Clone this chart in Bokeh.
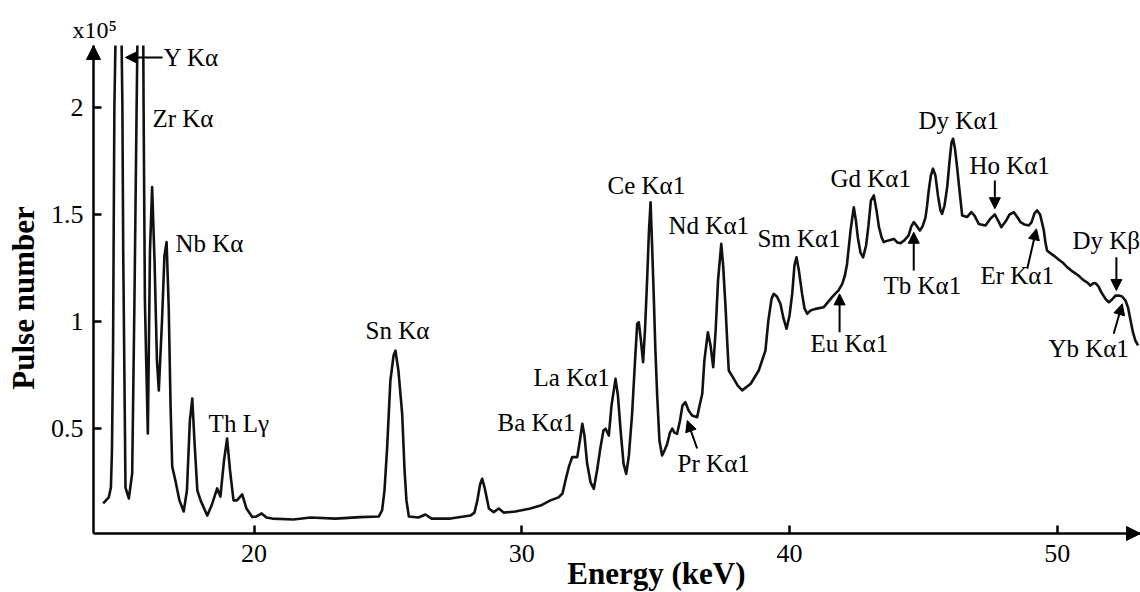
from bokeh.plotting import figure
from bokeh.models import Range1d, FixedTicker, NumeralTickFormatter, Label, Arrow, NormalHead
from bokeh.embed import file_html
from bokeh.resources import INLINE

# ---------------- data ----------------
energy_kev = [
    14.36, 14.57, 14.65, 14.69, 14.73, 14.78, 14.82, 15.05, 15.08, 15.11, 15.195,
    15.32, 15.445, 15.53, 15.61, 15.64, 15.86, 15.87, 15.92, 15.96, 16.03, 16.11,
    16.19, 16.28, 16.37, 16.44, 16.56, 16.65, 16.73, 16.81, 16.88, 16.94,
    17.06, 17.21, 17.37, 17.49, 17.60, 17.69, 17.77, 17.88, 18.00, 18.25,
    18.41, 18.62, 18.74, 18.875, 18.99, 19.10, 19.23, 19.36, 19.555, 19.715,
    19.93, 20.09, 20.28, 20.46, 20.675, 21.47, 22.11, 23.04, 23.97, 24.66,
    24.78, 24.87, 24.97, 25.09, 25.21, 25.28, 25.39, 25.53, 25.62, 25.69,
    25.78, 26.14, 26.40, 26.63, 27.34, 28.08, 28.23, 28.34, 28.44, 28.52,
    28.61, 28.77, 28.95, 29.14, 29.32, 29.76, 30.32, 30.70, 31.07, 31.37,
    31.52, 31.63, 31.76, 31.88, 32.07, 32.17, 32.26, 32.34, 32.44, 32.57,
    32.69, 32.81, 32.94, 33.05, 33.13, 33.25, 33.35, 33.50, 33.59, 33.69,
    33.80, 33.90, 34.00, 34.12, 34.23, 34.31, 34.37, 34.45, 34.53, 34.60,
    34.68, 34.75, 34.81, 34.86, 34.93, 34.99, 35.06, 35.14, 35.24, 35.33,
    35.43, 35.535, 35.62, 35.70, 35.80, 35.91, 36.00, 36.11, 36.23, 36.36,
    36.55, 36.64, 36.74, 36.82, 36.95, 37.05, 37.15, 37.24, 37.33, 37.45,
    37.52, 37.61, 37.68, 37.73, 37.92, 38.06, 38.23, 38.55, 38.85, 39.10,
    39.21, 39.33, 39.41, 39.53, 39.66, 39.775, 39.89, 40.00, 40.10, 40.185,
    40.26, 40.35, 40.47, 40.56, 40.66, 40.78, 40.97, 41.28, 41.59, 41.83,
    41.97, 42.07, 42.15, 42.22, 42.28, 42.40, 42.48, 42.55, 42.65, 42.75,
    42.86, 42.95, 43.04, 43.15, 43.25, 43.34, 43.44, 43.52, 43.70, 43.90,
    44.03, 44.145, 44.29, 44.45, 44.55, 44.64, 44.74, 44.87, 44.97, 45.08,
    45.14, 45.20, 45.28, 45.36, 45.45, 45.545, 45.64, 45.70, 45.79, 45.89,
    45.98, 46.05, 46.11, 46.18, 46.26, 46.35, 46.45, 46.63, 46.79, 46.91,
    47.07, 47.32, 47.51, 47.67, 47.81, 47.91, 48.07, 48.22, 48.38, 48.52,
    48.63, 48.78, 48.94, 49.04, 49.15, 49.25, 49.36, 49.43, 49.50, 49.56,
    49.62, 49.69, 49.87, 50.05, 50.20, 50.37, 50.57, 50.79, 50.99, 51.13,
    51.24, 51.36, 51.43, 51.54, 51.65, 51.80, 51.93, 52.05, 52.18, 52.30,
    52.42, 52.55, 52.645, 52.74, 52.83, 52.92, 53.02,
]
pulse_e5 = [
    0.150, 0.178, 0.224, 0.397, 0.864, 2.00, 2.30, 2.30, 2.00, 1.33, 0.224,
    0.173, 0.290, 1.10, 1.99, 2.30, 2.30, 2.03, 1.10, 0.864, 0.477, 1.33,
    1.628, 1.285, 0.818, 0.678, 1.005, 1.308, 1.371, 1.067, 0.600, 0.322,
    0.257, 0.164, 0.112, 0.210, 0.537, 0.640, 0.444, 0.210, 0.164, 0.093,
    0.140, 0.220, 0.182, 0.350, 0.453, 0.304, 0.164, 0.164, 0.192, 0.126,
    0.086, 0.089, 0.103, 0.084, 0.079, 0.075, 0.084, 0.079, 0.086, 0.089,
    0.117, 0.210, 0.413, 0.724, 0.841, 0.864, 0.771, 0.570, 0.304, 0.164,
    0.089, 0.084, 0.098, 0.079, 0.079, 0.093, 0.107, 0.164, 0.238, 0.265,
    0.224, 0.126, 0.109, 0.126, 0.107, 0.112, 0.126, 0.140, 0.164, 0.178,
    0.196, 0.257, 0.322, 0.366, 0.366, 0.444, 0.522, 0.467, 0.336, 0.248,
    0.218, 0.304, 0.413, 0.491, 0.499, 0.467, 0.607, 0.732, 0.654, 0.491,
    0.336, 0.288, 0.374, 0.569, 0.818, 0.989, 0.997, 0.911, 0.810, 0.958,
    1.192, 1.425, 1.557, 1.379, 1.114, 0.864, 0.646, 0.444, 0.374, 0.397,
    0.428, 0.481, 0.499, 0.481, 0.475, 0.537, 0.607, 0.623, 0.584, 0.561,
    0.553, 0.607, 0.662, 0.818, 0.950, 0.888, 0.786, 0.958, 1.192, 1.363,
    1.262, 1.067, 0.888, 0.771, 0.732, 0.701, 0.678, 0.709, 0.771, 0.864,
    1.005, 1.107, 1.129, 1.117, 1.083, 1.014, 0.966, 1.028, 1.129, 1.262,
    1.300, 1.238, 1.129, 1.061, 1.036, 1.051, 1.059, 1.067, 1.114, 1.145,
    1.176, 1.215, 1.270, 1.355, 1.425, 1.534, 1.472, 1.394, 1.322, 1.300,
    1.355, 1.449, 1.565, 1.589, 1.519, 1.441, 1.393, 1.371, 1.379, 1.386,
    1.369, 1.366, 1.379, 1.402, 1.444, 1.464, 1.449, 1.425, 1.444, 1.487,
    1.542, 1.612, 1.682, 1.714, 1.682, 1.589, 1.519, 1.503, 1.542, 1.628,
    1.752, 1.836, 1.854, 1.808, 1.721, 1.612, 1.495, 1.488, 1.511, 1.495,
    1.456, 1.449, 1.481, 1.500, 1.467, 1.441, 1.467, 1.500, 1.511, 1.486,
    1.464, 1.453, 1.449, 1.463, 1.505, 1.519, 1.500, 1.463, 1.425, 1.369,
    1.332, 1.324, 1.308, 1.290, 1.276, 1.254, 1.234, 1.215, 1.192, 1.182,
    1.168, 1.180, 1.179, 1.164, 1.136, 1.106, 1.090, 1.103, 1.121, 1.121,
    1.117, 1.098, 1.065, 1.005, 0.949, 0.911, 0.888,
]

x_ticks = [20, 30, 40, 50]
y_ticks = [0.5, 1, 1.5, 2]

# peak labels: text, left x (keV), baseline y (x10^5)
label_texts = ["Y K\u03b1", "Zr K\u03b1", "Nb K\u03b1", "Th L\u03b3", "Sn K\u03b1",
               "Ba K\u03b11", "La K\u03b11", "Ce K\u03b11", "Nd K\u03b11", "Pr K\u03b11",
               "Sm K\u03b11", "Eu K\u03b11", "Gd K\u03b11", "Tb K\u03b11", "Dy K\u03b11",
               "Ho K\u03b11", "Er K\u03b11", "Dy K\u03b2", "Yb K\u03b11"]
label_x = [16.615, 16.20, 17.06, 18.30, 24.16, 29.09, 30.44, 33.20, 35.48, 35.82,
           38.80, 40.785, 41.53, 43.51, 44.82, 46.72, 47.13, 50.57, 49.67]
label_y = [2.187, 1.902, 1.318, 0.477, 0.911, 0.481, 0.692, 1.589, 1.402, 0.290,
           1.341, 0.850, 1.621, 1.121, 1.893, 1.682, 1.168, 1.332, 0.827]

# pointer arrows: start -> end (head)
arrow_x0 = [16.58, 36.55, 41.87, 44.64, 47.67, 48.88, 52.21, 52.11]
arrow_y0 = [2.234, 0.4065, 0.950, 1.238, 1.659, 1.246, 1.300, 0.9425]
arrow_x1 = [15.195, 36.18, 41.87, 44.64, 47.67, 49.225, 52.21, 52.43]
arrow_y1 = [2.234, 0.537, 1.129, 1.417, 1.527, 1.433, 1.145, 1.083]

# ---------------- figure ----------------
AX_X, AX_Y = 14.0, 0.0093          # where the axes cross
XF0, XF1 = 10.526, 53.111           # frame x extent (whole canvas width)
YF0, YF1 = -0.2664, 2.2897          # frame y extent

p = figure(width=1140, height=592, x_range=Range1d(XF0, XF1), y_range=Range1d(YF0, YF1),
           output_backend="svg", toolbar_location=None,
           min_border_left=0, min_border_right=0, min_border_top=45, min_border_bottom=0)
p.outline_line_color = None
p.grid.visible = False
p.background_fill_color = "white"
p.border_fill_color = "white"

SERIF = "Liberation Serif"
for ax in (p.xaxis[0], p.yaxis[0]):
    ax.axis_line_width = 2.5
    ax.axis_line_color = "black"
    ax.major_tick_in = 8
    ax.major_tick_out = 0
    ax.major_tick_line_width = 2.5
    ax.major_tick_line_color = "black"
    ax.minor_tick_line_color = None
    ax.major_label_text_font = SERIF
    ax.major_label_text_font_size = "26px"
    ax.major_label_text_color = "black"
    ax.axis_label = None

p.yaxis.fixed_location = AX_X
p.xaxis.fixed_location = AX_Y
p.yaxis.bounds = (AX_Y, YF1)
p.xaxis.bounds = (AX_X, XF1)
p.xaxis.ticker = FixedTicker(ticks=x_ticks)
p.yaxis.ticker = FixedTicker(ticks=y_ticks)
p.yaxis.formatter = NumeralTickFormatter(format="0.[0]")
p.xaxis.major_label_standoff = 11
p.yaxis.major_label_standoff = 10

p.line(energy_kev, pulse_e5, line_color="#111111", line_width=2.6, line_join="round")

# axis arrow heads
p.add_layout(Arrow(end=NormalHead(size=14, fill_color="black", line_color="black", line_width=1),
                   x_start=XF1 - 0.4, y_start=AX_Y, x_end=XF1, y_end=AX_Y,
                   line_color="black", line_width=2.5))
p.add_layout(Arrow(end=NormalHead(size=14, fill_color="black", line_color="black", line_width=1),
                   x_start=AX_X, y_start=YF1 - 0.05, x_end=AX_X, y_end=YF1,
                   line_color="black", line_width=2.5))

# peak labels
for t, lx, ly in zip(label_texts, label_x, label_y):
    p.add_layout(Label(x=lx, y=ly, y_offset=10, text=t, text_font=SERIF, text_font_size="25px",
                       text_color="black", text_align="left", text_baseline="alphabetic"))

# pointer arrows
for xs, ys, xe, ye in zip(arrow_x0, arrow_y0, arrow_x1, arrow_y1):
    p.add_layout(Arrow(end=NormalHead(size=11, fill_color="black", line_color="black", line_width=1),
                       x_start=xs, y_start=ys, x_end=xe, y_end=ye,
                       line_color="black", line_width=2))

# x10^5 multiplier (above the frame)
p.title.text = "x10\u2075"
p.title.align = "left"
p.title.offset = 72
p.title.standoff = 6
p.title.text_font = SERIF
p.title.text_font_size = "24px"
p.title.text_font_style = "normal"
p.title.text_color = "black"

# axis titles
p.add_layout(Label(x=11.385, y=1.11, text="Pulse number", text_font=SERIF,
                   text_font_size="31px", text_font_style="bold", angle=1.5707963,
                   text_color="black", text_align="center", text_baseline="middle"))
p.add_layout(Label(x=35.03, y=-0.2336, y_offset=12, text="Energy (keV)", text_font=SERIF,
                   text_font_size="31px", text_font_style="bold", text_color="black",
                   text_align="center", text_baseline="alphabetic"))

open("out.html", "w").write(file_html(p, INLINE))
